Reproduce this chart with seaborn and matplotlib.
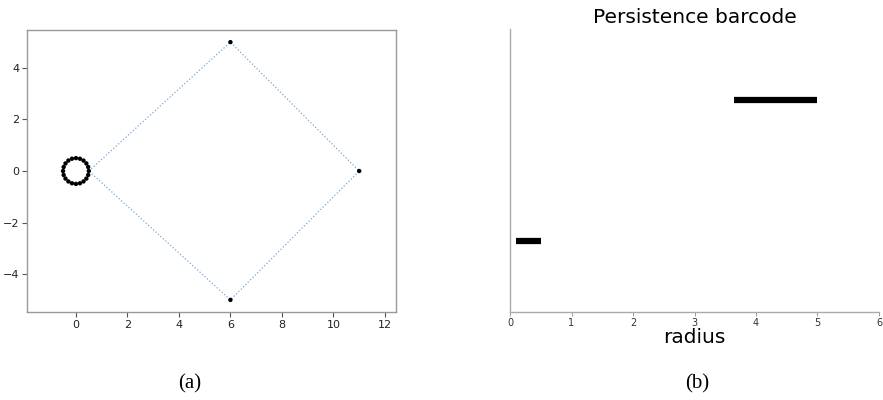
import matplotlib
matplotlib.use("Agg")
import matplotlib.pyplot as plt
import seaborn as sns
import pandas as pd

# ---- data ----
circle_x = [0.5, 0.476, 0.405, 0.294, 0.155, 0.0, -0.155, -0.294, -0.405, -0.476,
            -0.5, -0.476, -0.405, -0.294, -0.155, 0.0, 0.155, 0.294, 0.405, 0.476]
circle_y = [0.0, 0.155, 0.294, 0.405, 0.476, 0.5, 0.476, 0.405, 0.294, 0.155,
            0.0, -0.155, -0.294, -0.405, -0.476, -0.5, -0.476, -0.405, -0.294, -0.155]
far_x = [6, 11, 6]
far_y = [5, 0, -5]
path_x = [0.5, 6, 11, 6, 0.5]
path_y = [0, 5, 0, -5, 0]

bar_birth = [0.1, 3.65]
bar_death = [0.5, 5.0]
bar_level = [0.5, 1.5]

left_xticks = [0, 2, 4, 6, 8, 10, 12]
left_yticks = [-4, -2, 0, 2, 4]
right_xticks = [0, 1, 2, 3, 4, 5, 6]

sns.set_theme(style="white")
plt.rcParams['font.family'] = ['DejaVu Sans']
plt.rcParams['text.color'] = 'black'
plt.rcParams['axes.labelcolor'] = 'black'

fig = plt.figure(figsize=(8.83, 4.0), dpi=100)
W, H = 883, 400
ax1 = fig.add_axes([27 / W, 1 - 312 / H, (396 - 27) / W, (312 - 30) / H])
ax2 = fig.add_axes([510 / W, 1 - 312 / H, (879 - 510) / W, (312 - 29) / H])

# ---- left panel ----
path_df = pd.DataFrame({"x": path_x, "y": path_y})
sns.lineplot(data=path_df, x="x", y="y", sort=False, estimator=None, ax=ax1,
             color="#74a9e0", linestyle=":", linewidth=0.9)
pts_df = pd.DataFrame({"x": circle_x + far_x, "y": circle_y + far_y})
sns.scatterplot(data=pts_df, x="x", y="y", ax=ax1, color="black", s=10,
                edgecolor="none", zorder=3)
ax1.set_xlim(-1.9, 12.43)
ax1.set_ylim(-5.47, 5.47)
ax1.set_xticks(left_xticks)
ax1.set_yticks(left_yticks)
ax1.set_xlabel("")
ax1.set_ylabel("")
for s in ax1.spines.values():
    s.set_visible(True)
    s.set_color("#999999")
    s.set_linewidth(1.0)
ax1.tick_params(axis="both", which="both", direction="out", length=3.5, width=0.8,
                color="#555555", labelsize=8, labelcolor="#222222", pad=2,
                bottom=True, left=True)

# ---- right panel ----
for b, d, lv in zip(bar_birth, bar_death, bar_level):
    ax2.hlines(lv, b, d, color="black", linewidth=4.5)
ax2.set_xlim(0, 6)
ax2.set_ylim(0, 2)
ax2.set_xticks(right_xticks)
ax2.set_yticks([])
for side in ["top", "right"]:
    ax2.spines[side].set_visible(False)
for side in ["left", "bottom"]:
    ax2.spines[side].set_visible(True)
    ax2.spines[side].set_color("#aaaaaa")
    ax2.spines[side].set_linewidth(1.0)
ax2.tick_params(axis="x", direction="out", length=3, width=0.6, color="#888888",
                labelsize=7, labelcolor="#333333", pad=1, bottom=True)
ax2.set_title("Persistence barcode", fontsize=14.5, pad=4, color="black")
ax2.set_xlabel("radius", fontsize=14.5, labelpad=0, color="black")

# ---- captions ----
fig.text(190 / W, 1 - 384 / H, "(a)", fontsize=15, family=["Liberation Serif"],
         ha="center", va="center", color="black")
fig.text(697 / W, 1 - 384 / H, "(b)", fontsize=15, family=["Liberation Serif"],
         ha="center", va="center", color="black")

fig.savefig("out.png", dpi=100)
